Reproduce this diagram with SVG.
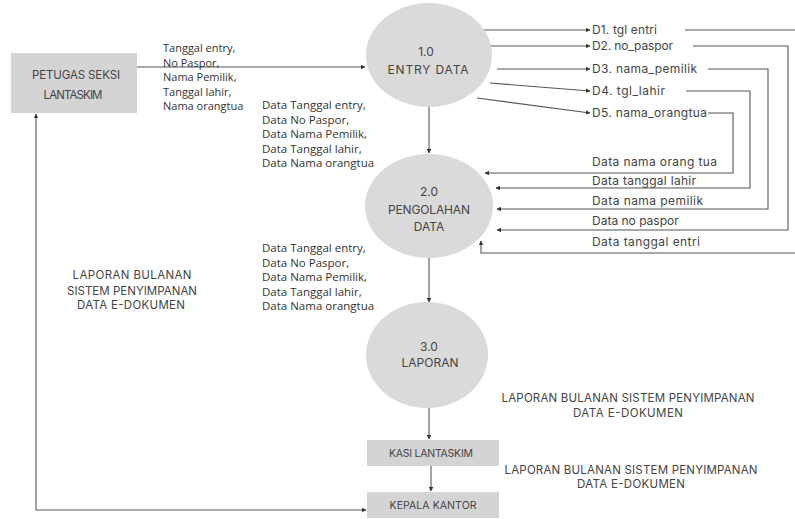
<svg xmlns="http://www.w3.org/2000/svg" width="795" height="519" viewBox="0 0 795 519">
<defs>
<marker id="ah" viewBox="0 0 6 6" refX="5.5" refY="3" markerWidth="4.5" markerHeight="4.5" markerUnits="userSpaceOnUse" orient="auto-start-reverse">
<path d="M0,0 L6,3 L0,6 z" fill="#333"/>
</marker>
<style>
.bub{fill:#dadada;stroke:none}
.box{fill:#d4d4d4;stroke:none}
.ln{fill:none;stroke:#555;stroke-width:1.1}
.mt{font-family:Inter,"Noto Sans","Liberation Sans",sans-serif;fill:#444;text-anchor:middle}
.ml{font-family:Inter,"Noto Sans","Liberation Sans",sans-serif;fill:#444;font-size:12px}
.os{font-family:"Open Sans","Noto Sans","Liberation Sans",sans-serif;fill:#333;font-size:11px}
.os2{font-family:"Open Sans","Noto Sans","Liberation Sans",sans-serif;fill:#333;font-size:11.5px}
</style>
</defs>
<rect width="795" height="519" fill="#fff"/>

<g id="connectors">
<line class="ln" x1="137" y1="67" x2="365" y2="67" marker-end="url(#ah)"/>
<line class="ln" x1="483" y1="30" x2="590" y2="30" marker-end="url(#ah)"/>
<line class="ln" x1="488" y1="46" x2="590" y2="46" marker-end="url(#ah)"/>
<line class="ln" x1="497" y1="69" x2="590" y2="69" marker-end="url(#ah)"/>
<line class="ln" x1="490" y1="83" x2="590" y2="91" marker-end="url(#ah)"/>
<line class="ln" x1="477" y1="98" x2="590" y2="113" marker-end="url(#ah)"/>
<line class="ln" x1="685" y1="30" x2="795" y2="30"/>
<polyline class="ln" points="795,253 481,253 481,241" marker-end="url(#ah)"/>
<polyline class="ln" points="693,46 788,46 788,230 497,230" marker-end="url(#ah)"/>
<polyline class="ln" points="708,69 768,69 768,209 497,209" marker-end="url(#ah)"/>
<polyline class="ln" points="686,91 750,91 750,188 496,188" marker-end="url(#ah)"/>
<polyline class="ln" points="708,113 733,113 733,173 485,173" marker-end="url(#ah)"/>
<line class="ln" x1="429" y1="107" x2="429" y2="153" marker-end="url(#ah)"/>
<line class="ln" x1="429" y1="258" x2="429" y2="302" marker-end="url(#ah)"/>
<line class="ln" x1="429" y1="408" x2="429" y2="439" marker-end="url(#ah)"/>
<line class="ln" x1="431" y1="466" x2="431" y2="491" marker-end="url(#ah)"/>
<polyline class="ln" points="366,510 36,510 36,114" marker-start="url(#ah)" marker-end="url(#ah)"/>
</g>

<g id="petugas">
<rect class="box" x="11" y="53" width="126" height="60"/>
<text class="mt" font-size="11.5" x="76" y="79" textLength="88">PETUGAS SEKSI</text>
<text class="mt" font-size="11.5" x="73" y="99" textLength="59">LANTASKIM</text>
</g>

<g id="p1">
<ellipse class="bub" cx="429" cy="55" rx="63" ry="52"/>
<text class="mt" font-size="12" x="426" y="56">1.0</text>
<text class="mt" font-size="12" x="428" y="74" textLength="81">ENTRY DATA</text>
</g>

<g id="p2">
<ellipse class="bub" cx="429" cy="206" rx="64" ry="52"/>
<text class="mt" font-size="12" x="429" y="196">2.0</text>
<text class="mt" font-size="12" x="429" y="214" textLength="82">PENGOLAHAN</text>
<text class="mt" font-size="12" x="429" y="231">DATA</text>
</g>

<g id="p3">
<ellipse class="bub" cx="427" cy="355" rx="61" ry="53"/>
<text class="mt" font-size="12" x="429" y="351">3.0</text>
<text class="mt" font-size="12" x="430" y="367" textLength="57">LAPORAN</text>
</g>

<g id="kasi">
<rect class="box" x="367" y="440" width="132" height="26"/>
<text class="mt" font-size="10.5" x="431" y="457" textLength="84">KASI LANTASKIM</text>
</g>

<g id="kepala">
<rect class="box" x="367" y="492" width="132" height="26"/>
<text class="mt" font-size="10.5" x="433" y="509" textLength="87">KEPALA KANTOR</text>
</g>

<g id="stores">
<text class="ml" x="592" y="34" textLength="65">D1. tgl entri</text>
<text class="ml" x="592" y="50" textLength="81">D2. no_paspor</text>
<text class="ml" x="592" y="73" textLength="105">D3. nama_pemilik</text>
<text class="ml" x="592" y="95" textLength="73">D4. tgl_lahir</text>
<text class="ml" x="592" y="117" textLength="115">D5. nama_orangtua</text>
</g>

<g id="labels">
<text class="os" x="163" y="52">Tanggal entry,</text>
<text class="os" x="163" y="67">No Paspor,</text>
<text class="os" x="163" y="81">Nama Pemilik,</text>
<text class="os" x="163" y="96">Tanggal lahir,</text>
<text class="os" x="163" y="110">Nama orangtua</text>

<text class="os2" x="262" y="109">Data Tanggal entry,</text>
<text class="os2" x="262" y="123.5">Data No Paspor,</text>
<text class="os2" x="262" y="138">Data Nama Pemilik,</text>
<text class="os2" x="262" y="152.5">Data Tanggal lahir,</text>
<text class="os2" x="262" y="167">Data Nama orangtua</text>

<text class="os2" x="262" y="252">Data Tanggal entry,</text>
<text class="os2" x="262" y="266.5">Data No Paspor,</text>
<text class="os2" x="262" y="281">Data Nama Pemilik,</text>
<text class="os2" x="262" y="295.5">Data Tanggal lahir,</text>
<text class="os2" x="262" y="310">Data Nama orangtua</text>

<text class="ml" x="592" y="166" textLength="125">Data nama orang tua</text>
<text class="ml" x="592" y="185" textLength="104">Data tanggal lahir</text>
<text class="ml" x="592" y="205" textLength="111">Data nama pemilik</text>
<text class="ml" x="592" y="225">Data no paspor</text>
<text class="ml" x="592" y="246" textLength="108">Data tanggal entri</text>

<text class="mt" font-size="11.5" x="132" y="279" textLength="119">LAPORAN BULANAN</text>
<text class="mt" font-size="11.5" x="132" y="295" textLength="130">SISTEM PENYIMPANAN</text>
<text class="mt" font-size="11.5" x="131" y="309" textLength="108">DATA E-DOKUMEN</text>

<text class="mt" font-size="11.5" x="628" y="402" textLength="253">LAPORAN BULANAN SISTEM PENYIMPANAN</text>
<text class="mt" font-size="11.5" x="628" y="417" textLength="110">DATA E-DOKUMEN</text>

<text class="mt" font-size="11.5" x="631" y="474" textLength="253">LAPORAN BULANAN SISTEM PENYIMPANAN</text>
<text class="mt" font-size="11.5" x="631" y="488" textLength="108">DATA E-DOKUMEN</text>
</g>
</svg>
